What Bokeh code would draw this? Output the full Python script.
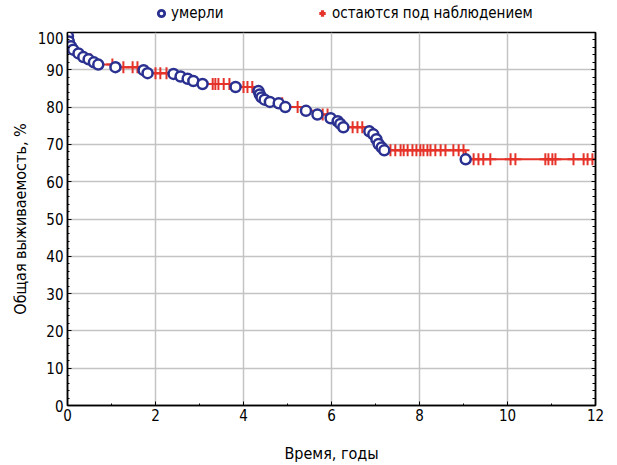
import numpy as np
from bokeh.plotting import figure
from bokeh.layouts import column
from bokeh.models import (Range1d, LinearAxis, SingleIntervalTicker, Legend, LegendItem,
                          CustomJSTickFormatter, ColumnDataSource)
from bokeh.embed import file_html
from bokeh.resources import INLINE

# death events: time (years) and survival (%) after the event
event_time = [0.01, 0.03, 0.08, 0.13, 0.25, 0.36, 0.48, 0.60, 0.70, 1.09, 1.73, 1.82,
              2.41, 2.57, 2.73, 2.86, 3.07, 3.82, 4.34, 4.37, 4.41, 4.48, 4.60, 4.80,
              4.95, 5.42, 5.68, 5.98, 6.14, 6.20, 6.27, 6.86, 6.95, 7.02, 7.07, 7.14,
              7.20, 9.05]
event_surv = [99.0, 97.6, 96.3, 95.4, 94.4, 93.4, 92.8, 92.0, 91.4, 90.7, 89.9, 89.1,
              88.9, 88.2, 87.6, 87.0, 86.2, 85.4, 84.3, 83.4, 82.6, 82.0, 81.4, 81.0,
              80.0, 79.0, 78.0, 77.0, 76.2, 75.5, 74.6, 73.5, 72.7, 71.4, 70.1, 69.2,
              68.4, 66.0]
# censored observations (years)
censor_time = [0.52, 1.02, 1.27, 1.48, 1.59, 2.00, 2.11, 2.25, 3.30, 3.36, 3.43, 3.55,
               3.68, 4.00, 4.09, 4.20, 4.88, 5.23, 5.80, 5.91, 6.48, 6.59, 6.70, 7.34,
               7.45, 7.57, 7.64, 7.73, 7.84, 7.93, 8.02, 8.09, 8.18, 8.25, 8.36, 8.48,
               8.59, 8.77, 8.89, 9.00, 9.23, 9.34, 9.45, 9.61, 10.07, 10.18, 10.86, 10.93,
               11.02, 11.09, 11.50, 11.73, 11.82, 11.93]
legend_labels = ["умерли", "остаются под наблюдением"]
x_end = 12.0

et = np.array(event_time)
es = np.array(event_surv)
ct = np.array(censor_time)
idx = np.searchsorted(et, ct, side="right") - 1
censor_surv = np.where(idx >= 0, es[np.clip(idx, 0, None)], 100.0)

RED = "#e5332a"
BLUE = "#2b3190"
FONT = "DejaVu Sans Condensed"

# ---- legend strip on top ----
top = figure(width=617, height=31, output_backend="svg", toolbar_location=None,
             x_range=Range1d(0, 1), y_range=Range1d(0, 1),
             min_border=0, outline_line_color=None)
top.axis.visible = False
top.grid.visible = False
offscreen = ColumnDataSource(data=dict(x=[-5.0], y=[-5.0]))
lc = top.scatter("x", "y", source=offscreen, marker="circle", size=11, line_color=BLUE,
                 fill_color="white", line_width=2.8)
lr = top.scatter("x", "y", source=offscreen, marker="cross", size=13, line_color=RED,
                 line_width=3.2)
for rend, lab, loc in ((lc, legend_labels[0], (86, 9)), (lr, legend_labels[1], (247, 9))):
    lg = Legend(items=[LegendItem(label=lab, renderers=[rend])],
                location=loc, border_line_color=None,
                background_fill_alpha=0, label_text_font=FONT, label_text_font_size="15px",
                label_text_color="black", glyph_width=16, glyph_height=18,
                label_standoff=2, padding=0, margin=0)
    top.add_layout(lg, "center")

# ---- main plot ----
p = figure(width=617, height=434, output_backend="svg", toolbar_location=None,
           x_range=Range1d(0, 12), y_range=Range1d(0, 100),
           min_border_left=67, min_border_right=22, min_border_top=1, min_border_bottom=59)

step_x = [0.0] + event_time + [x_end]
step_y = [100.0] + event_surv + [event_surv[-1]]
p.step(step_x, step_y, mode="after", line_color=RED, line_width=2)

p.scatter(ct, censor_surv, marker="cross", size=12, line_color=RED, line_width=2)
p.scatter(event_time, event_surv, marker="circle", size=10, line_color=BLUE,
          fill_color="white", line_width=2.5)

p.xaxis.ticker = SingleIntervalTicker(interval=2, num_minor_ticks=2)
p.yaxis.ticker = SingleIntervalTicker(interval=10, num_minor_ticks=5)
for ax in (p.xaxis[0], p.yaxis[0]):
    ax.major_tick_in = 4
    ax.major_tick_out = 0
    ax.minor_tick_in = 2
    ax.minor_tick_out = 0
    ax.axis_line_color = "black"
    ax.axis_line_width = 1.5
    ax.major_label_text_font = FONT
    ax.major_label_text_font_size = "15px"
    ax.major_label_text_color = "black"
    ax.axis_label_text_font = FONT
    ax.axis_label_text_font_size = "16px"
    ax.axis_label_text_font_style = "normal"
    ax.axis_label_text_color = "black"
p.xaxis.axis_label = "Время, годы"
p.yaxis.axis_label = "Общая выживаемость, %"
p.xaxis.major_label_standoff = 3
p.xaxis.axis_label_standoff = 20
p.yaxis.major_label_standoff = 4
p.yaxis.axis_label_standoff = 5

right = LinearAxis(ticker=SingleIntervalTicker(interval=10, num_minor_ticks=5),
                   formatter=CustomJSTickFormatter(code="return ''"),
                   major_tick_in=4, major_tick_out=0,
                   minor_tick_in=3, minor_tick_out=0, axis_line_width=1.5)
p.add_layout(right, "right")

p.grid.grid_line_color = "#c4c4c4"
p.grid.grid_line_width = 1.5
p.outline_line_color = "black"
p.outline_line_width = 1.5

layout = column(top, p, spacing=0)
open("out.html", "w").write(file_html(layout, INLINE))
